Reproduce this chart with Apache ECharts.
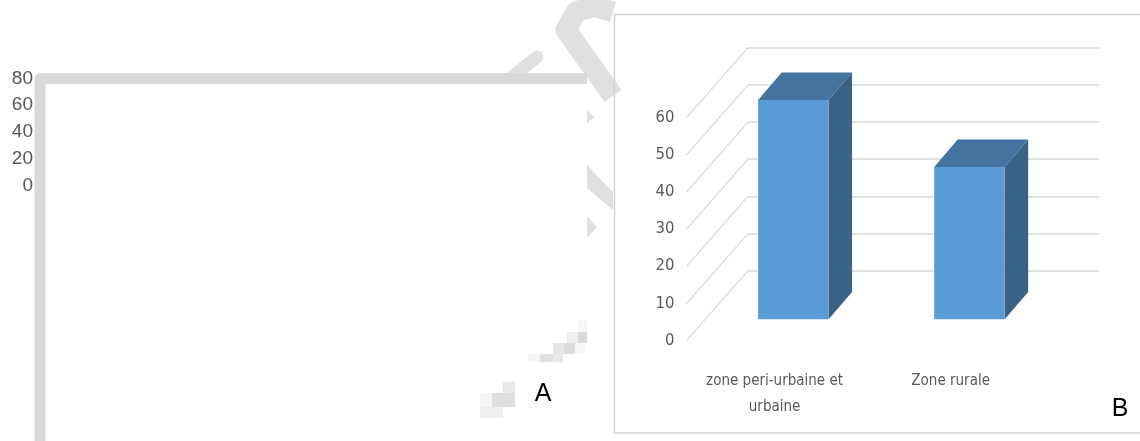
<!DOCTYPE html>
<html><head><meta charset="utf-8">
<script src="https://cdn.jsdelivr.net/npm/echarts@6/dist/echarts.min.js"></script>
<style>html,body{margin:0;padding:0;background:#fff}#c{width:1140px;height:441px}</style>
</head><body><div id="c"></div>
<script>
// ---- data ----
const categories = ['zone peri-urbaine et\nurbaine', 'Zone rurale'];
const values = [59, 41];
const ticksB = [0, 10, 20, 30, 40, 50, 60];
const ticksA = [0, 20, 40, 60, 80];

// ---- styles ----
const NARROW = "'DejaVu Sans Condensed','Liberation Sans',sans-serif";
const FRONT = '#5b9bd5', TOP = '#44739f', SIDE = '#386387';
const DX = 23.5, DY = -27.4;          // bar depth vector
const FDX = -61.5, FDY = 70;          // back wall -> front edge vector
const BAR_FRAC = 0.4;
const GRAY = '#d9d9d9';
const WM = '#e0e0e0';

const chart = echarts.init(document.getElementById('c'), null, {renderer: 'canvas'});

chart.setOption({
  animation: false,
  backgroundColor: '#fff',
  grid: [
    {left: 36, top: 78.3, width: 10, height: 107.7, outerBoundsMode: 'none'},      // A
    {left: 686.5, top: 117.5, width: 352.2, height: 223, outerBoundsMode: 'none'},  // front plane
    {left: 748, top: 47.7, width: 351.3, height: 223, outerBoundsMode: 'none'},     // back wall
    {left: 705.3, top: 96.3, width: 352.2, height: 223, outerBoundsMode: 'none'}    // bar plane
  ],
  xAxis: [
    {gridIndex: 0, type: 'value', show: false},
    {gridIndex: 1, type: 'category', data: categories,
      axisLine: {show: false}, axisTick: {show: false},
      axisLabel: {interval: 0, margin: 28, fontSize: 15, lineHeight: 25.5, color: '#595959', fontFamily: NARROW}},
    {gridIndex: 2, type: 'value', min: 0, max: 1, show: false},
    {gridIndex: 3, type: 'category', data: categories, show: false}
  ],
  yAxis: [
    {gridIndex: 0, type: 'value', min: 0, max: 80, interval: 20,
      axisLine: {show: false}, axisTick: {show: false}, splitLine: {show: false},
      axisLabel: {margin: 3, fontSize: 19, color: '#595959', fontFamily: "'Liberation Sans',sans-serif"}},
    {gridIndex: 1, type: 'value', min: 0, max: 60, interval: 10,
      axisLine: {show: false}, axisTick: {show: false}, splitLine: {show: false},
      axisLabel: {margin: 12, fontSize: 16.5, color: '#595959', fontFamily: NARROW}},
    {gridIndex: 2, type: 'value', min: 0, max: 60, interval: 10,
      axisLine: {show: false}, axisTick: {show: false}, axisLabel: {show: false},
      splitLine: {show: true, lineStyle: {color: GRAY, width: 1.6}}},
    {gridIndex: 3, type: 'value', min: 0, max: 60, interval: 10, show: false}
  ],
  graphic: [
    // watermark fragments
    {type: 'polyline', z: 0, shape: {points: [[613, 12], [594, 6], [576, 12], [566, 30], [613, 96]]},
      style: {stroke: WM, lineWidth: 21, lineJoin: 'round', fill: null}},
    {type: 'line', z: 0, shape: {x1: 512, y1: 77, x2: 537, y2: 57},
      style: {stroke: WM, lineWidth: 13, lineCap: 'round'}},
    {type: 'polygon', z: 0, shape: {points: [[587, 110], [594, 117], [587, 124]]}, style: {fill: WM}},
    {type: 'polygon', z: 0, shape: {points: [[587, 216], [597, 227], [587, 238]]}, style: {fill: WM}},
    {type: 'polygon', z: 0, shape: {points: [[587, 165], [613, 192], [613, 210], [587, 188]]}, style: {fill: WM}},
    // pixel artifacts near A
    {type: 'rect', z: 0, shape: {x: 578, y: 320, width: 9, height: 12}, style: {fill: '#f6f6f6'}},
    {type: 'rect', z: 0, shape: {x: 567, y: 332, width: 11, height: 11}, style: {fill: '#efefef'}},
    {type: 'rect', z: 0, shape: {x: 578, y: 332, width: 9, height: 11}, style: {fill: '#d9d9d9'}},
    {type: 'rect', z: 0, shape: {x: 553, y: 343, width: 11, height: 11}, style: {fill: '#e6e6e6'}},
    {type: 'rect', z: 0, shape: {x: 564, y: 343, width: 11, height: 11}, style: {fill: '#dcdcdc'}},
    {type: 'rect', z: 0, shape: {x: 575, y: 343, width: 10, height: 11}, style: {fill: '#f6f6f6'}},
    {type: 'rect', z: 0, shape: {x: 528, y: 354, width: 12, height: 8}, style: {fill: '#f5f5f5'}},
    {type: 'rect', z: 0, shape: {x: 540, y: 354, width: 13, height: 8}, style: {fill: '#e0e0e0'}},
    {type: 'rect', z: 0, shape: {x: 553, y: 354, width: 10, height: 8}, style: {fill: '#e8e8e8'}},
    {type: 'rect', z: 0, shape: {x: 503, y: 382, width: 12, height: 11}, style: {fill: '#e8e8e8'}},
    {type: 'rect', z: 0, shape: {x: 480, y: 393, width: 12, height: 14}, style: {fill: '#f6f6f6'}},
    {type: 'rect', z: 0, shape: {x: 492, y: 393, width: 23, height: 14}, style: {fill: '#dedede'}},
    {type: 'rect', z: 0, shape: {x: 480, y: 407, width: 23, height: 11}, style: {fill: '#eeeeee'}},
    // panel A frame
    {type: 'polyline', z: 1, shape: {points: [[40, 441], [40, 78.5], [587, 78.5]]},
      style: {stroke: GRAY, lineWidth: 11, lineJoin: 'round', fill: null}},
    // panel B border
    {type: 'rect', z: 1, shape: {x: 614.5, y: 14.5, width: 600, height: 418.5},
      style: {stroke: '#d4d4d4', lineWidth: 1.5, fill: null}},
    // panel letters
    {type: 'text', z: 5, x: 543, y: 394, style: {text: 'A', fontSize: 25, fill: '#000', align: 'center', verticalAlign: 'middle', fontFamily: "'Liberation Sans',sans-serif"}},
    {type: 'text', z: 5, x: 1120, y: 409, style: {text: 'B', fontSize: 25, fill: '#000', align: 'center', verticalAlign: 'middle', fontFamily: "'Liberation Sans',sans-serif"}}
  ],
  series: [
    {
      type: 'custom', name: 'diag', xAxisIndex: 2, yAxisIndex: 2, z: 1, silent: true,
      data: ticksB.map(v => [0, v]),
      renderItem: function (params, api) {
        const p = api.coord([0, api.value(1)]);
        return {type: 'line', shape: {x1: p[0], y1: p[1], x2: p[0] + FDX, y2: p[1] + FDY},
          style: {stroke: GRAY, lineWidth: 1.2}};
      }
    },
    {
      type: 'custom', name: 'bars', xAxisIndex: 3, yAxisIndex: 3, z: 3,
      data: categories.map((c, i) => [i, values[i]]),
      renderItem: function (params, api) {
        const idx = api.value(0), v = api.value(1);
        const base = api.coord([idx, 0]), top = api.coord([idx, v]);
        const w = api.size([1, 0])[0] * BAR_FRAC;
        const l = base[0] - w / 2, r = base[0] + w / 2;
        const y0 = base[1], y1 = top[1];
        return {type: 'group', children: [
          {type: 'polygon', shape: {points: [[r, y1], [r + DX, y1 + DY], [r + DX, y0 + DY], [r, y0]]}, style: {fill: SIDE}},
          {type: 'rect', shape: {x: l, y: y1, width: w, height: y0 - y1}, style: {fill: FRONT}},
          {type: 'polygon', shape: {points: [[l, y1], [r, y1], [r + DX, y1 + DY], [l + DX, y1 + DY]]}, style: {fill: TOP}}
        ]};
      }
    }
  ]
});
</script>
</body></html>
